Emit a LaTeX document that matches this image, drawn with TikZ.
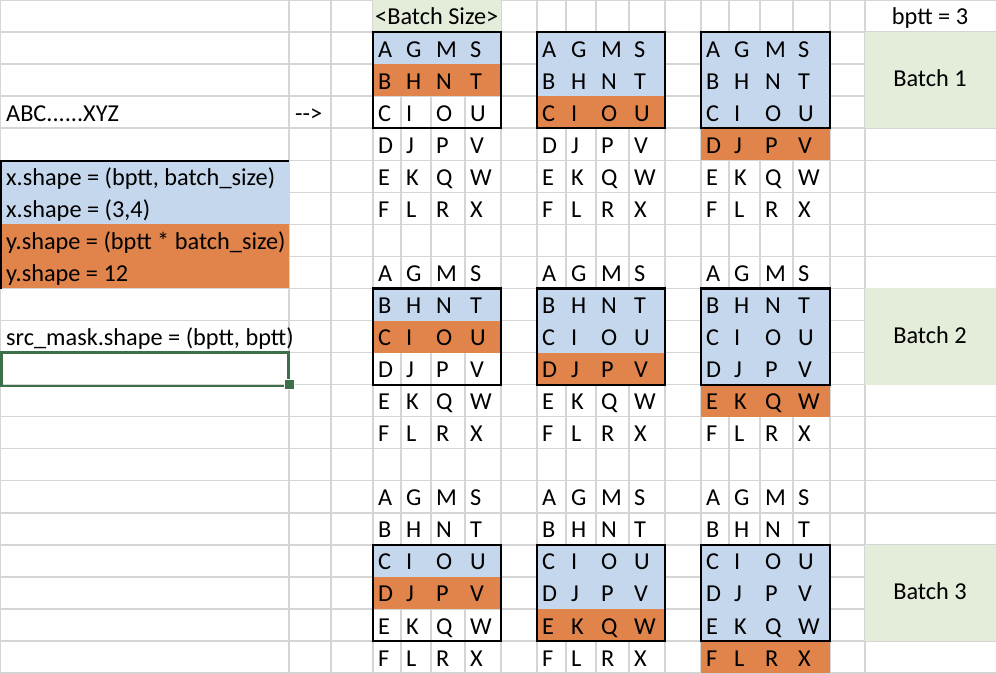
\documentclass[tikz,border=0pt]{standalone}
\usepackage{fontspec}
\setmainfont{Carlito}
\definecolor{gridgray}{HTML}{D5D5D5}
\definecolor{cellblue}{HTML}{C5D7EC}
\definecolor{cellorange}{HTML}{E0844B}
\definecolor{cellgreen}{HTML}{E3EDDA}
\definecolor{selgreen}{HTML}{3B7049}
\begin{document}
\begin{tikzpicture}[x=1pt,y=-1pt,
  gridline/.style={draw=gridgray,line width=1.4pt},
  celltext/.style={inner sep=0pt,anchor=base west,font=\fontsize{24.3}{29}\selectfont},
  midtext/.style={inner sep=0pt,anchor=base,font=\fontsize{24.3}{29}\selectfont},
  blockline/.style={draw=black,line width=2.2pt},
  bluefill/.style={fill=cellblue},
  orangefill/.style={fill=cellorange},
  greenfill/.style={fill=cellgreen},
  selection/.style={draw=selgreen,line width=2.6pt},
]
\useasboundingbox (0,0) rectangle (996,674);
\fill[white] (0,0) rectangle (996,674);

% sheet grid: 21 rows of 32.05, columns of uneven width
\foreach \k in {0,...,21}
  \draw[gridline] (0,{32.05*\k}) -- (996,{32.05*\k});
\foreach \x in {0.7,289,331,373,401,431,465,501,537,566,596,629,665,701,729,760,793,830,865}
  \draw[gridline] (\x,0) -- (\x,673);

% header cell and notes block
\fill[greenfill] (373,0) rectangle (501,32.05);
\fill[bluefill] (0,{32.05*5}) rectangle (289,{32.05*7});
\fill[orangefill] (0,{32.05*7}) rectangle (289,{32.05*9});

% windows: blue rows = x, orange row = y; first window row t = 2+8b
\foreach \b in {0,1,2} {
  \pgfmathtruncatemacro\t{2+8*\b}
  \foreach \g/\xl/\xr in {0/373/501,1/537/665,2/701/830} {
    \fill[bluefill] (\xl,{32.05*(\t-1)}) rectangle (\xr,{32.05*(\t+\g)});
    \fill[orangefill] (\xl,{32.05*(\t+\g)}) rectangle (\xr,{32.05*(\t+\g+1)});
  }
  \fill[greenfill] (865,{32.05*(\t-1)}) rectangle (996,{32.05*(\t+2)});
}

% letter columns A-F, G-L, M-R, S-X
\foreach \b in {0,1,2} {
  \foreach \g/\xa/\xb/\xc/\xd in {0/373/401/431/465,1/537/566/596/629,2/701/729/760/793} {
    \foreach \c/\xx in {0/\xa,1/\xb,2/\xc,3/\xd} {
      \foreach \i in {0,...,5} {
        \pgfmathtruncatemacro\code{65+6*\c+\i}
        \pgfmathsetmacro\yb{32.05*(7*\b+\i+2)-7}
        \node[celltext] (L\b\g\c\i) at (\xx+5,\yb) {\symbol{\code}};
      }
    }
  }
}

% window outlines and batch labels
\foreach \b/\lab in {0/Batch 1,1/Batch 2,2/Batch 3} {
  \pgfmathtruncatemacro\t{2+8*\b}
  \foreach \g/\xl/\xr in {0/373/501,1/537/665,2/701/830}
    \draw[blockline] (\xl,{32.05*(\t-1)}) rectangle (\xr,{32.05*(\t+2)});
  \node[midtext] (batch\b) at (930,{32.05*(\t+0.5)+6.5}) {\lab};
}

\node[celltext] (hdr) at (375,25) {<Batch Size>};
\node[midtext] (bptt) at (930,25) {bptt = 3};
\node[celltext] (seq) at (6,122) {ABC......XYZ};
\node[celltext] (arrow) at (295,122) {-\kern0pt-\kern0pt>};

\node[celltext] (xs1) at (6,185.3) {x.shape = (bptt, batch\_size)};
\node[celltext] (xs2) at (6,217.35) {x.shape = (3,4)};
\node[celltext] (ys1) at (6,249.4) {y.shape = (bptt * batch\_size)};
\node[celltext] (ys2) at (6,281.45) {y.shape = 12};
\node[celltext] (mask) at (6,345.55) {src\_mask.shape = (bptt, bptt)};

\draw[blockline] (1.1,289) -- (1.1,160.8) -- (289,160.8);

% active cell
\draw[selection] (1.3,352.3) rectangle (288.5,385.8);
\fill[selgreen,draw=white,line width=0.8pt] (284,379) rectangle (294.5,389.5);
\end{tikzpicture}
\end{document}
